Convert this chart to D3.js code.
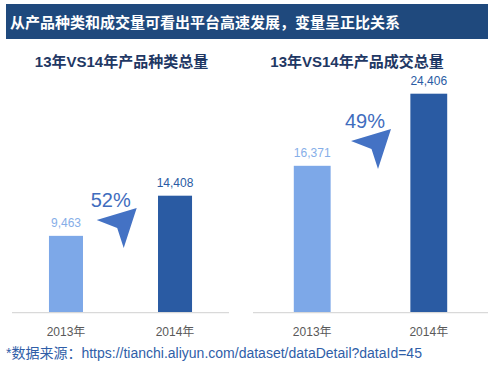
<!DOCTYPE html>
<html><head><meta charset="utf-8">
<script src="https://cdn.jsdelivr.net/npm/d3@7/dist/d3.min.js"></script>
<style>
html,body{margin:0;padding:0;background:#fff;}
svg{display:block;font-family:"Liberation Sans","Noto Sans CJK SC",Arial,sans-serif;}
</style></head>
<body>
<svg id="c" width="495" height="367"></svg>
<script>
const mainTitle = "从产品种类和成交量可看出平台高速发展，变量呈正比关系";
const panelTitles = ["13年VS14年产品种类总量", "13年VS14年产品成交总量"];
const categories = ["2013年", "2014年"];
const productTypes = [9463, 14408];
const productSales = [16371, 24406];
const growthLabels = ["52%", "49%"];
const sourceNote = "*数据来源：https://tianchi.aliyun.com/dataset/dataDetail?dataId=45";

const svg = d3.select("#c");
const fmt = d3.format(",");
const lightC = "#7DA8E8", darkC = "#2A5BA3";

svg.append("rect").attr("x", 6).attr("y", 4).attr("width", 482).attr("height", 35).attr("fill", "#1F497D");
svg.append("text").attr("x", 10).attr("y", 27.5).attr("fill", "#fff")
  .attr("font-size", 15).attr("font-weight", "bold").text(mainTitle);

const panels = [
  {values: productTypes, title: panelTitles[0], titleX: 121.5, x0: 12, x1: 229, topY: 195.7, pIn: 0.688, pOut: 0.339, arrow: [96.7, 220], pct: growthLabels[0]},
  {values: productSales, title: panelTitles[1], titleX: 357, x0: 253, x1: 488, topY: 93.7, pIn: 0.684, pOut: 0.35, arrow: [351, 141], pct: growthLabels[1]}
];
const baseY = 312.7;

panels.forEach(p => {
  const g = svg.append("g");
  g.append("text").attr("x", p.titleX).attr("y", 67).attr("text-anchor", "middle")
    .attr("fill", "#1F3864").attr("font-size", 15).attr("font-weight", "bold").text(p.title);
  const x = d3.scaleBand().domain(categories).range([p.x0, p.x1]).paddingInner(p.pIn).paddingOuter(p.pOut);
  const y = d3.scaleLinear().domain([0, d3.max(p.values)]).range([baseY, p.topY]);
  const data = categories.map((c, i) => ({c, v: p.values[i], i}));
  g.selectAll("rect.bar").data(data).join("rect").attr("class", "bar")
    .attr("x", d => x(d.c)).attr("width", x.bandwidth())
    .attr("y", d => y(d.v)).attr("height", d => baseY - y(d.v))
    .attr("fill", d => d.i === 0 ? lightC : darkC);
  g.selectAll("text.val").data(data).join("text").attr("class", "val")
    .attr("x", d => x(d.c) + x.bandwidth() / 2).attr("y", d => y(d.v) - 8.5)
    .attr("text-anchor", "middle").attr("font-size", 12)
    .attr("fill", d => d.i === 0 ? "#86AEE8" : darkC).text(d => fmt(d.v));
  const axis = d3.axisBottom(x).tickSize(0).tickPadding(0);
  const ag = g.append("g").attr("transform", `translate(0,${baseY})`).call(axis);
  ag.select(".domain").attr("stroke", "#D9D9D9").attr("stroke-width", 1.2)
    .attr("d", `M${p.x0},0H${p.x1}`);
  ag.selectAll(".tick text").attr("font-size", 12).attr("fill", "#595959")
    .attr("dy", null).attr("y", 23.8).attr("font-family", "\"Liberation Sans\",\"Noto Sans CJK SC\",sans-serif");
  const [ax, ay] = p.arrow;
  g.append("path").attr("fill", "#4472C4")
    .attr("d", `M${ax},${ay}L${ax + 40},${ay - 12}L${ax + 27},${ay + 28}L${ax + 20.5},${ay + 8}Z`);
  g.append("text").attr("x", ax - 6).attr("y", ay - 13.3).attr("font-size", 20)
    .attr("fill", "#3F6DBE").text(p.pct);
});

svg.append("text").attr("x", 6).attr("y", 358).attr("font-size", 14)
  .attr("fill", "#2F5EA8").text(sourceNote);
</script>
</body></html>
